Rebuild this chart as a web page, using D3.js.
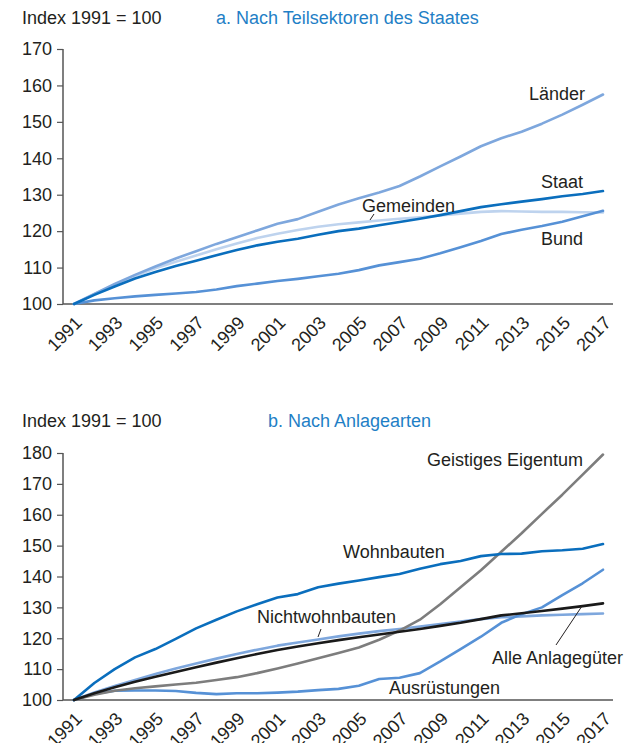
<!DOCTYPE html>
<html>
<head>
<meta charset="utf-8">
<script src="https://cdn.jsdelivr.net/npm/d3@7"></script>
<style>
  body { margin: 0; background: #fff; }
  svg text { font-family: "Liberation Sans", Arial, Helvetica, sans-serif; }
</style>
</head>
<body>
<svg id="chart" width="630" height="743"></svg>
<script>
const years = d3.range(1991, 2018);
const xTickYears = d3.range(1991, 2018, 2);

// Panel a: Nach Teilsektoren des Staates
const laender   = [100,102.8,105.5,108,110.3,112.5,114.5,116.5,118.3,120.2,122,123.3,125.3,127.3,129,130.6,132.4,135,137.8,140.5,143.3,145.5,147.3,149.5,152,154.7,157.5];
const staat     = [100,102.5,104.8,107,108.8,110.4,111.9,113.4,114.8,116.1,117.1,117.9,119,120,120.7,121.6,122.5,123.4,124.4,125.5,126.6,127.4,128.1,128.8,129.6,130.2,131];
const gemeinden = [100,102.7,105.3,107.7,109.8,111.6,113.3,115,116.6,118.1,119.3,120.3,121.2,121.9,122.4,122.9,123.4,123.8,124.3,124.8,125.3,125.5,125.4,125.3,125.3,125.2,125.1];
const bund      = [100,101,101.6,102.1,102.5,102.9,103.3,104,104.9,105.6,106.3,106.9,107.6,108.3,109.3,110.6,111.5,112.4,113.9,115.6,117.3,119.2,120.4,121.4,122.6,124.1,125.6];
const yTicksA = [100,110,120,130,140,150,160,170];

// Panel b: Nach Anlagearten
const geistiges   = [100,101.7,103,103.8,104.4,105,105.6,106.5,107.4,108.7,110.2,111.8,113.5,115.2,117,119.5,122.5,126,131,136.5,142,148,154,160.3,166.5,173,179.5];
const wohnbauten  = [100,105.5,110,113.8,116.5,119.8,123.2,126,128.7,131,133.2,134.3,136.5,137.7,138.7,139.8,140.8,142.5,144,145,146.6,147.3,147.4,148.2,148.5,149,150.5];
const nichtwohn   = [100,102.4,104.5,106.5,108.4,110.2,111.8,113.4,114.9,116.3,117.6,118.6,119.6,120.6,121.5,122.3,123,123.8,124.6,125.4,126.2,126.8,127.1,127.4,127.6,127.8,128];
const alle        = [100,102.2,104.1,105.9,107.5,109.1,110.6,112.1,113.5,114.9,116.2,117.3,118.4,119.4,120.3,121.2,122.1,123,124,125,126.2,127.4,128.1,128.8,129.6,130.4,131.3];
const ausruestung = [100,102,103,103.1,103.1,102.9,102.3,101.9,102.2,102.2,102.4,102.7,103.2,103.6,104.6,106.8,107.2,108.7,112.5,116.5,120.5,125,127.8,130,134,137.8,142.2];
const yTicksB = [100,110,120,130,140,150,160,170,180];

const C = {
  dark: "#0a6ebd", mid: "#5691d6", light: "#7ea7dd", pale: "#bed3ee",
  gray: "#7d7d7d", black: "#1a1a1a", title: "#1f7fc6", axis: "#555", text: "#231f20"
};

const svg = d3.select("#chart");
const x = d3.scaleLinear().domain([1991, 2017]).range([74, 603]);

function panel(cfg) {
  const g = svg.append("g");
  const y = d3.scaleLinear().domain(cfg.yDomain).range(cfg.yRange);

  g.append("text").attr("x", 22).attr("y", cfg.headY).attr("font-size", 18)
    .attr("fill", C.text).text("Index 1991 = 100");
  g.append("text").attr("x", cfg.titleX).attr("y", cfg.headY).attr("font-size", 18)
    .attr("fill", C.title).text(cfg.title);

  // y axis
  const ya = g.append("g").attr("transform", "translate(63,0)")
    .call(d3.axisLeft(y).tickValues(cfg.yTicks).tickSize(6).tickPadding(5).tickFormat(d3.format("d")));
  ya.select(".domain").remove();
  ya.selectAll(".tick line").attr("stroke", C.axis).attr("stroke-width", 1.2);
  ya.selectAll(".tick text").attr("font-size", 18).attr("fill", C.text)
    .attr("font-family", "Liberation Sans, Arial, sans-serif");
  g.append("line").attr("x1", 63).attr("x2", 63)
    .attr("y1", y(cfg.yDomain[1])).attr("y2", y(cfg.yDomain[0]))
    .attr("stroke", C.axis).attr("stroke-width", 1.5);

  // x axis
  const y0 = y(cfg.yDomain[0]);
  g.append("line").attr("x1", 63).attr("x2", 613).attr("y1", y0).attr("y2", y0)
    .attr("stroke", C.axis).attr("stroke-width", 1.5);
  g.selectAll("text.xl").data(xTickYears).enter().append("text")
    .attr("class", "xl")
    .attr("transform", d => `translate(${x(d) + 9},${y0 + 20}) rotate(-45)`)
    .attr("text-anchor", "end").attr("font-size", 18).attr("fill", C.text)
    .text(d => d);

  // lines
  const line = d3.line().x((d, i) => x(years[i])).y(d => y(d));
  cfg.series.forEach(s => {
    g.append("path").datum(s.values).attr("d", line)
      .attr("fill", "none").attr("stroke", s.color).attr("stroke-width", 2.6)
      .attr("stroke-linejoin", "round").attr("stroke-linecap", "round");
  });

  // labels
  cfg.labels.forEach(l => {
    g.append("text").attr("x", l.x).attr("y", l.y).attr("font-size", 18)
      .attr("fill", C.text).text(l.text);
  });
  cfg.leaders.forEach(p => {
    g.append("line").attr("x1", p[0]).attr("y1", p[1]).attr("x2", p[2]).attr("y2", p[3])
      .attr("stroke", C.text).attr("stroke-width", 1);
  });
}

panel({
  yDomain: [100, 170], yRange: [304, 49], yTicks: yTicksA, headY: 24, titleX: 216,
  title: "a. Nach Teilsektoren des Staates",
  series: [
    { values: gemeinden, color: C.pale },
    { values: bund, color: C.mid },
    { values: laender, color: C.light },
    { values: staat, color: C.dark }
  ],
  labels: [
    { text: "Länder", x: 529, y: 100 },
    { text: "Staat", x: 541, y: 188 },
    { text: "Gemeinden", x: 362, y: 212 },
    { text: "Bund", x: 541, y: 245 }
  ],
  leaders: [[374, 214, 370, 220]]
});

panel({
  yDomain: [100, 180], yRange: [700, 453], yTicks: yTicksB, headY: 427, titleX: 268,
  title: "b. Nach Anlagearten",
  series: [
    { values: nichtwohn, color: C.light },
    { values: ausruestung, color: C.mid },
    { values: geistiges, color: C.gray },
    { values: wohnbauten, color: C.dark },
    { values: alle, color: C.black }
  ],
  labels: [
    { text: "Geistiges Eigentum", x: 427, y: 466 },
    { text: "Wohnbauten", x: 343, y: 558 },
    { text: "Nichtwohnbauten", x: 257, y: 623 },
    { text: "Alle Anlagegüter", x: 492, y: 664 },
    { text: "Ausrüstungen", x: 389, y: 694 }
  ],
  leaders: [[321, 629, 318, 637], [582, 606, 556, 645]]
});
</script>
</body>
</html>
